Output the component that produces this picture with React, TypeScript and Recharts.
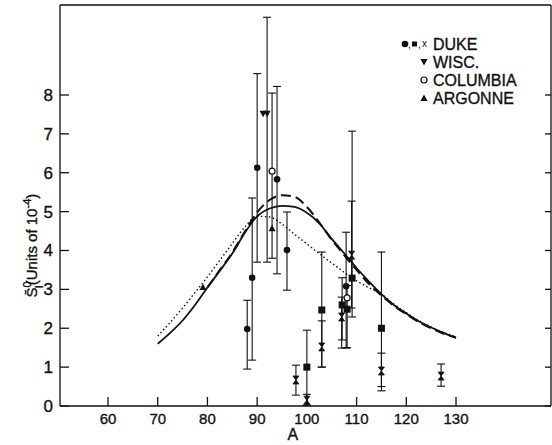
import {
  ComposedChart,
  Line,
  Scatter,
  ErrorBar,
  XAxis,
  YAxis,
  Label,
} from "recharts";

const xTicks = [60, 70, 80, 90, 100, 110, 120, 130];
const yTicks = [0, 1, 2, 3, 4, 5, 6, 7, 8];

// theory curves, sampled every 2.5 in A
const curveA = [70, 72.5, 75, 77.5, 80, 82.5, 85, 87.5, 90, 92.5, 95, 97.5, 100, 102.5, 105, 107.5, 110, 112.5, 115, 117.5, 120, 122.5, 125, 127.5, 130];
const solidS = [1.6, 1.88, 2.2, 2.6, 3.05, 3.48, 3.92, 4.45, 4.88, 5.08, 5.15, 5.12, 4.97, 4.7, 4.3, 3.93, 3.55, 3.2, 2.88, 2.6, 2.38, 2.18, 2.02, 1.88, 1.75];
const dashedS = [null, null, null, null, 3.05, 3.5, 3.95, 4.48, 4.98, 5.3, 5.42, 5.38, 5.12, 4.72, 4.28, 3.88, 3.5, 3.14, 2.84, 2.58, 2.36, 2.16, 2.0, 1.86, 1.76];
const dottedS = [1.8, 2.15, 2.52, 2.92, 3.32, 3.75, 4.18, 4.6, 4.88, 4.86, 4.68, 4.42, 4.17, 3.92, 3.68, 3.44, 3.22, 3.04, 2.88, 2.62, 2.4, 2.2, 2.03, 1.89, 1.78];

// measurements: A, value, lower and upper end of error bar
const dukeCircleA = [88, 89, 90, 94, 96, 107.9];
const dukeCircleS = [1.98, 3.3, 6.13, 5.83, 4.01, 3.08];
const dukeCircleLo = [0.95, 1.18, 3.7, 3.4, 2.98, 1.49];
const dukeCircleHi = [2.72, 5.35, 8.55, 8.22, 4.99, 4.47];

const dukeSquareA = [100, 103, 107.1, 108.1, 109.1, 115];
const dukeSquareS = [1.0, 2.47, 2.6, 2.49, 3.29, 2.0];
const dukeSquareLo = [0.02, 1.0, 1.7, 1.5, 2.29, 0.39];
const dukeSquareHi = [1.95, 3.96, 3.3, 3.1, 7.07, 3.96];

const dukeXA = [97.8, 100, 103, 107, 109, 115, 127];
const dukeXS = [0.67, 0.15, 1.52, 2.29, 3.88, 0.9, 0.77];
const dukeXLo = [0.28, 0.02, 1.0, 1.49, 2.52, 0.5, 0.51];
const dukeXHi = [1.05, 0.3, 2.19, 2.8, 5.27, 1.36, 1.08];

const wiscA = [91.2, 92.0];
const wiscS = [7.52, 7.52];
const wiscLo = [7.52, 3.7];
const wiscHi = [7.52, 10.0];

const columbiaA = [93, 108.1];
const columbiaS = [6.04, 2.78];

const argonneA = [93, 79.1];
const argonneS = [4.57, 3.06];
const argonneLo = [3.8, 3.06];
const argonneHi = [8.05, 3.06];

const legendNames = ["DUKE", "WISC.", "COLUMBIA", "ARGONNE"];

const INK = "#111";
const FONT = "'Liberation Sans', Arial, sans-serif";
// slight outline to mimic the heavier lettering of the original
const letter = { fontFamily: FONT, fill: INK, stroke: INK, strokeWidth: 0.35 };

const curve = (vals: (number | null)[]) => curveA.map((a, i) => ({ a, s: vals[i] }));
const pts = (A: number[], S: number[]) => A.map((a, i) => ({ a, s: S[i] }));
const errs = (A: number[], S: number[], lo: number[], hi: number[]) =>
  A.map((a, i) => ({ a, s: S[i], err: [S[i] - lo[i], hi[i] - S[i]] })).filter(
    (d) => d.err[0] + d.err[1] > 0
  );

const errorData = [
  ...errs(dukeCircleA, dukeCircleS, dukeCircleLo, dukeCircleHi),
  ...errs(dukeSquareA, dukeSquareS, dukeSquareLo, dukeSquareHi),
  ...errs(dukeXA, dukeXS, dukeXLo, dukeXHi),
  ...errs(wiscA, wiscS, wiscLo, wiscHi),
  ...errs(argonneA, argonneS, argonneLo, argonneHi),
];

// marker shapes
const dot = (p: any) => <circle cx={p.cx} cy={p.cy} r={3.3} fill={INK} />;
const square = (p: any) => <rect x={p.cx - 3.5} y={p.cy - 3.5} width={7} height={7} fill={INK} />;
const hourglass = (p: any) => (
  <path d={`M${p.cx - 3},${p.cy - 4} H${p.cx + 3} L${p.cx - 3},${p.cy + 4} H${p.cx + 3} Z`} fill={INK} stroke={INK} strokeWidth={0.8} />
);
const triDown = (p: any) => (
  <path d={`M${p.cx - 3.5},${p.cy - 3} H${p.cx + 3.5} L${p.cx},${p.cy + 3.5} Z`} fill={INK} />
);
const ring = (p: any) => <circle cx={p.cx} cy={p.cy} r={3} fill="#fff" stroke={INK} strokeWidth={1.2} />;
const triUp = (p: any) => (
  <path d={`M${p.cx - 3.5},${p.cy + 3} H${p.cx + 3.5} L${p.cx},${p.cy - 3.5} Z`} fill={INK} />
);
const nothing = () => <g />;

// inward ticks, drawn by hand from the axis position Recharts hands over
const bottomTick = (p: any) => (
  <g>
    <path d={`M${p.x},${p.y} V${p.y - 9}`} stroke={INK} strokeWidth={1.3} />
    <text x={p.x} y={p.y + 18} textAnchor="middle" fontSize={15} {...letter}>
      {p.payload.value}
    </text>
  </g>
);
const topTick = (p: any) => (
  <path d={`M${p.x},${p.y} V${p.y + 9}`} stroke={INK} strokeWidth={1.3} />
);
const leftTick = (p: any) => (
  <g>
    <path d={`M${p.x},${p.y} H${p.x + 9}`} stroke={INK} strokeWidth={1.3} />
    <text x={p.x - 7} y={p.y + 6} textAnchor="end" fontSize={17} {...letter}>
      {p.payload.value}
    </text>
  </g>
);
const rightTick = (p: any) => (
  <path d={`M${p.x},${p.y} H${p.x - 6}`} stroke={INK} strokeWidth={1.3} />
);

// legend drawn as a plain overlay so it does not shrink the plot area
function ChartLegend() {
  const rowY = [11, 29, 47, 65];
  const tx = 33;
  return (
    <svg width={150} height={78} style={{ position: "absolute", left: 400, top: 33 }}>
      {dot({ cx: 5, cy: rowY[0] })}
      <text x={8} y={rowY[0] + 4} fontSize={10} fontFamily={FONT} fill={INK}>,</text>
      <rect x={12} y={rowY[0] - 2.5} width={5} height={5} fill={INK} />
      <text x={18} y={rowY[0] + 4} fontSize={10} fontFamily={FONT} fill={INK}>,</text>
      <text x={22} y={rowY[0] + 3} fontSize={10} fontFamily={FONT} fill={INK}>x</text>
      {triDown({ cx: 24, cy: rowY[1] })}
      {ring({ cx: 24, cy: rowY[2] })}
      {triUp({ cx: 24, cy: rowY[3] })}
      {legendNames.map((n, i) => (
        <text key={n} x={tx} y={rowY[i] + 5.5} fontSize={16} {...letter}>
          {n}
        </text>
      ))}
    </svg>
  );
}

const yLabel = (props: any) => {
  const vb = props.viewBox;
  const cx = vb.x + 37;
  const cy = vb.y + vb.height * 0.6;
  return (
    <text
      x={cx}
      y={cy}
      textAnchor="middle"
      transform={`rotate(-90 ${cx} ${cy})`}
      fontSize={15}
      {...letter}
    >
      <tspan>S̄</tspan>
      <tspan fontSize={11} dy={-6}>0</tspan>
      <tspan fontSize={11} dx={-7} dy={12}>I</tspan>
      <tspan dy={-6}>(Units of 10</tspan>
      <tspan fontSize={11} dy={-6}>-4</tspan>
      <tspan dy={6}>)</tspan>
    </text>
  );
};

const xLabel = (props: any) => {
  const vb = props.viewBox;
  return (
    <text x={vb.x + vb.width * 0.474} y={vb.y + 34} textAnchor="middle" fontSize={16} {...letter}>
      A
    </text>
  );
};

export default function App() {
  const xDomain = [50.34, 149.11];
  const yDomain = [0, 10.315];
  const axisLine = { stroke: INK, strokeWidth: 1.3 };
  return (
    <div style={{ position: "absolute", left: 0, top: 0, width: 552, height: 445, background: "#fff" }}>
      <ComposedChart width={552} height={445} margin={{ top: 4, right: 0, bottom: 9, left: 0 }}>
        <XAxis
          type="number"
          dataKey="a"
          domain={xDomain}
          ticks={xTicks}
          allowDataOverflow
          height={30}
          axisLine={axisLine}
          tickLine={false}
          tickSize={0}
          tickMargin={0}
          tick={bottomTick}
        >
          <Label content={xLabel} />
        </XAxis>
        <XAxis
          xAxisId="top"
          orientation="top"
          type="number"
          domain={xDomain}
          ticks={xTicks}
          allowDataOverflow
          height={1}
          axisLine={axisLine}
          tickLine={false}
          tickSize={0}
          tickMargin={0}
          tick={topTick}
        />
        <YAxis
          type="number"
          dataKey="s"
          domain={yDomain}
          ticks={yTicks}
          allowDataOverflow
          width={60}
          axisLine={axisLine}
          tickLine={false}
          tickSize={0}
          tickMargin={0}
          tick={leftTick}
        >
          <Label content={yLabel} />
        </YAxis>
        <YAxis
          yAxisId="right"
          orientation="right"
          type="number"
          domain={yDomain}
          ticks={yTicks}
          allowDataOverflow
          width={1}
          axisLine={axisLine}
          tickLine={false}
          tickSize={0}
          tickMargin={0}
          tick={rightTick}
        />

        <Line data={curve(dottedS)} dataKey="s" type="monotone" stroke={INK} strokeWidth={1.4} strokeDasharray="1.5 2.5" dot={false} isAnimationActive={false} />
        <Line data={curve(dashedS)} dataKey="s" type="monotone" stroke={INK} strokeWidth={2} strokeDasharray="10 5" dot={false} isAnimationActive={false} />
        <Line data={curve(solidS)} dataKey="s" type="monotone" stroke={INK} strokeWidth={1.8} dot={false} isAnimationActive={false} />

        <Scatter data={errorData} dataKey="s" shape={nothing} isAnimationActive={false}>
          <ErrorBar dataKey="err" direction="y" width={4} stroke={INK} strokeWidth={1.1} isAnimationActive={false} />
        </Scatter>
        <Scatter data={pts(dukeCircleA, dukeCircleS)} dataKey="s" shape={dot} isAnimationActive={false} />
        <Scatter data={pts(dukeSquareA, dukeSquareS)} dataKey="s" shape={square} isAnimationActive={false} />
        <Scatter data={pts(dukeXA, dukeXS)} dataKey="s" shape={hourglass} isAnimationActive={false} />
        <Scatter data={pts(wiscA, wiscS)} dataKey="s" shape={triDown} isAnimationActive={false} />
        <Scatter data={pts(columbiaA, columbiaS)} dataKey="s" shape={ring} isAnimationActive={false} />
        <Scatter data={pts(argonneA, argonneS)} dataKey="s" shape={triUp} isAnimationActive={false} />
      </ComposedChart>
      <ChartLegend />
    </div>
  );
}
